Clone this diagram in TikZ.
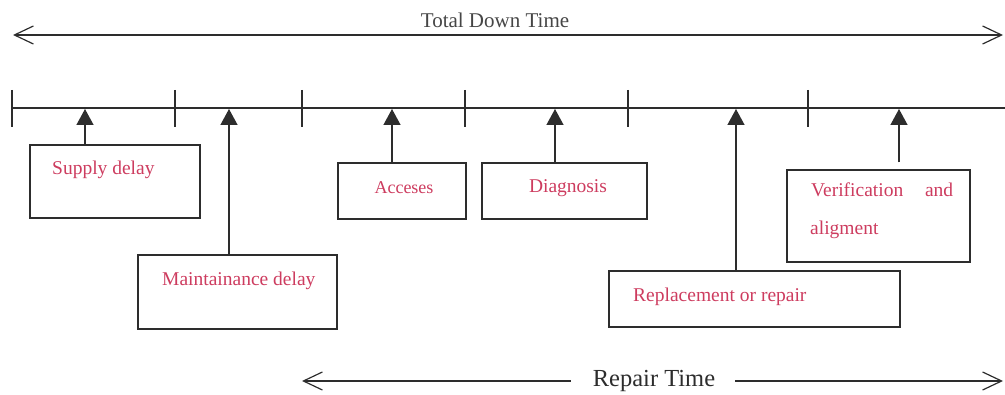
\documentclass[tikz,border=0pt]{standalone}
\usepackage{fontspec}
\setmainfont{Liberation Serif}
\usetikzlibrary{arrows.meta}
\definecolor{ink}{RGB}{45,45,45}
\definecolor{lab}{RGB}{205,60,95}
\definecolor{ttl}{RGB}{70,70,70}
\begin{document}
\begin{tikzpicture}[x=1pt,y=-1pt,
  box/.style={draw=ink, line width=1.4pt, inner sep=0pt},
  lbl/.style={text=lab, font=\fontsize{19.5}{21}\selectfont, inner sep=0pt},
  axis/.style={draw=ink, line width=1.3pt},
  tickmark/.style={draw=ink, line width=1.2pt},
  span/.style={draw=ink, line width=1.3pt},
  barb/.tip={Straight Barb[length=19pt,width=18pt,line width=1.2pt]},
  up/.style={draw=ink, line width=1.4pt, -{Triangle[length=16pt,width=17pt]}}
]
\useasboundingbox (0,0) rectangle (1005,395);

% Total down time
\coordinate (tdL) at (13,35);
\coordinate (tdR) at (1003,35);
\draw[span, barb-barb] (tdL) -- (tdR);
\node[text=ttl, font=\fontsize{21}{23}\selectfont, inner sep=0pt] (tdt) at (495,20) {Total Down Time};

% timeline
\coordinate (a0) at (12,108);
\coordinate (a1) at (1005,108);
\draw[axis] (a0) -- (a1);
\foreach \x in {12,175,302,465,628,808}
  \draw[tickmark] (\x,90) -- (\x,127);

% arrow tips on timeline
\coordinate (t1) at (85,109);
\coordinate (t2) at (229,109);
\coordinate (t3) at (392,109);
\coordinate (t4) at (555,109);
\coordinate (t5) at (736,109);
\coordinate (t6) at (899,109);

% boxes
\node[box, minimum width=170pt, minimum height=73pt] (sup) at (115,181.5) {};
\node[box, minimum width=199pt, minimum height=74pt] (mnt) at (237.5,292) {};
\node[box, minimum width=128pt, minimum height=56pt] (acc) at (402,191) {};
\node[box, minimum width=165pt, minimum height=56pt] (dia) at (564.5,191) {};
\node[box, minimum width=183pt, minimum height=92pt] (ver) at (878.5,216) {};
\node[box, minimum width=291pt, minimum height=56pt] (rep) at (754.5,299) {};

% labels
\node[lbl, anchor=west] (supl) at (52,170) {Supply delay};
\node[lbl, anchor=west] (mntl) at (162,281) {Maintainance delay};
\node[lbl, font=\fontsize{18}{20}\selectfont] (accl) at (404,188) {Acceses};
\node[lbl] (dial) at (568,188) {Diagnosis};
\node[lbl, anchor=west] (verl1) at (811,190) {\hbox to 142pt{Verification\hfill and}};
\node[lbl, anchor=west] (verl2) at (810,230) {aligment};
\node[lbl, anchor=west] (repl) at (633,297) {Replacement or repair};

% connectors
\draw[up] (t1 |- sup.north) -- (t1);
\draw[up] (t2 |- mnt.north) -- (t2);
\draw[up] (t3 |- acc.north) -- (t3);
\draw[up] (t4 |- dia.north) -- (t4);
\draw[up] (t5 |- rep.north) -- (t5);
\draw[up, shorten <=7pt] (t6 |- ver.north) -- (t6);

% repair time
\node[text=ink, font=\fontsize{24.5}{26}\selectfont, inner sep=0pt] (rt) at (654,381) {Repair Time};
\coordinate (rtL) at (302,381);
\coordinate (rtR) at (1003,381);
\draw[span, barb-] (rtL) -- ([xshift=-22pt]rt.west |- rtL);
\draw[span, -barb] ([xshift=20pt]rt.east |- rtR) -- (rtR);
\end{tikzpicture}
\end{document}
